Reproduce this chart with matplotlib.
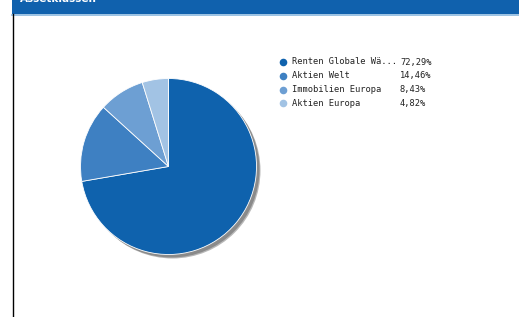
import matplotlib
matplotlib.use("Agg")
import matplotlib.pyplot as plt
from matplotlib.patches import Rectangle, Circle

# data
labels = ["Renten Globale Wä...", "Aktien Welt", "Immobilien Europa", "Aktien Europa"]
values = [72.29, 14.46, 8.43, 4.82]
pct_labels = ["72,29%", "14,46%", "8,43%", "4,82%"]
colors = ["#0f62ad", "#3e80c2", "#6d9fd3", "#a2c3e4"]

W, H = 519, 317
fig = plt.figure(figsize=(W / 100, H / 100), dpi=100)
ax = fig.add_axes([0, 0, 1, 1])
ax.set_xlim(0, W)
ax.set_ylim(0, H)
ax.set_aspect("equal")
ax.axis("off")

# header bar + frame (title sits mostly above the visible area)
ax.add_patch(Rectangle((12, H - 14), W - 12, 14, color="#1061ad", lw=0, zorder=1))
ax.plot([12, W], [H - 14.5, H - 14.5], color="#8ab8de", lw=1.2, zorder=2)
ax.plot([12.5, 12.5], [0, H - 14], color="black", lw=1.0, zorder=2)
ax.text(20, H - 2, "Assetklassen", color="white", fontsize=7.5, fontweight="bold",
        va="baseline", ha="left", zorder=3)

# pie with shadow
cx, cy, r = 168.5, H - 166.5, 88
for off, col in [(4, "#b8b8b8"), (3, "#8a8a8a")]:
    ax.add_patch(Circle((cx + off, cy - off), r, color=col, lw=0, zorder=3))
ax.pie(values, colors=colors, startangle=90, counterclock=False,
       center=(cx, cy), radius=r, frame=True,
       wedgeprops=dict(edgecolor="white", linewidth=0.6, zorder=4))
ax.set_xlim(0, W)
ax.set_ylim(0, H)
ax.axis("off")

# legend
y0 = H - 62
for i, (lab, pct, c) in enumerate(zip(labels, pct_labels, colors)):
    y = y0 - i * 13.8
    ax.scatter([283], [y], s=30, color=c, zorder=5, linewidths=0)
    ax.text(291.5, y, lab, fontsize=6.3, family="DejaVu Sans Mono", va="center",
            ha="left", color="#222222", zorder=5)
    ax.text(400, y, pct, fontsize=6.3, family="DejaVu Sans Mono", va="center",
            ha="left", color="#222222", zorder=5)

fig.savefig("out.png", dpi=100)
